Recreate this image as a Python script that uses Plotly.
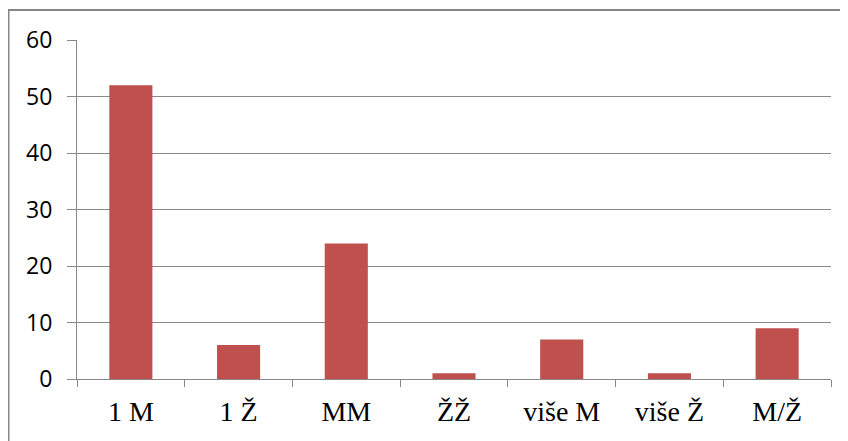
import plotly.graph_objects as go

categories = ["1 M", "1 Ž", "MM", "ŽŽ", "više M", "više Ž", "M/Ž"]
values = [52, 6, 24, 1, 7, 1, 9]
y_ticks = [0, 10, 20, 30, 40, 50, 60]

fig = go.Figure(go.Bar(x=categories, y=values, marker_color="#C0504D", marker_line_width=0))

# page has an 8px body margin, so the figure is placed at (8, 8)
W, H = 840, 433
ml, mr, mt, mb = 69, 17, 32, 62
pw, ph = W - ml - mr, H - mt - mb

fig.update_layout(
    width=W, height=H,
    margin=dict(l=ml, r=mr, t=mt, b=mb),
    paper_bgcolor="white", plot_bgcolor="white",
    bargap=0.6,
    showlegend=False,
    xaxis=dict(
        showline=True, linecolor="#888888", linewidth=1,
        ticks="outside", tickson="boundaries", ticklen=7, tickcolor="#888888",
        tickfont=dict(family="Liberation Serif", size=28, color="black"),
        showgrid=False,
        ticklabelstandoff=7,
    ),
    yaxis=dict(
        range=[0, 60], tickvals=y_ticks,
        showline=True, linecolor="#888888", linewidth=1,
        ticks="outside", ticklen=9, tickcolor="#888888",
        showgrid=True, gridcolor="#888888", gridwidth=1,
        zeroline=False,
        tickfont=dict(family="Open Sans", size=23, color="black"),
        ticklabelstandoff=10,
    ),
)

x0 = 0.5 / pw - ml / pw
y1 = (H - mb - 2) / ph
fig.add_shape(type="rect", xref="paper", yref="paper",
              x0=x0, x1=2, y0=-2, y1=y1,
              line=dict(color="#868686", width=2), fillcolor="rgba(0,0,0,0)", layer="below")

fig.write_html("out.html")
